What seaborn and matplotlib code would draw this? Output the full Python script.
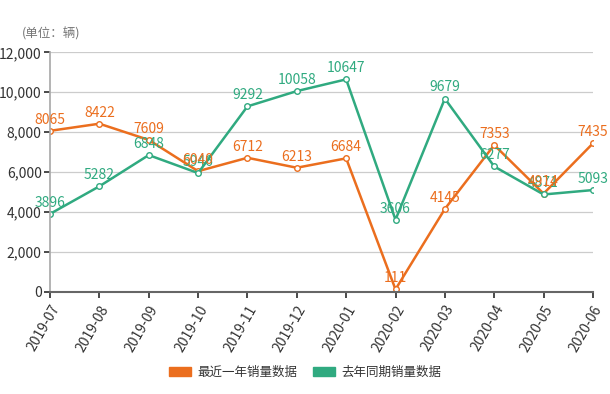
import matplotlib
matplotlib.use('Agg')
import matplotlib.pyplot as plt
import matplotlib.ticker as mticker
from matplotlib.patches import Patch
import seaborn as sns
import pandas as pd

# data
months = ['2019-07', '2019-08', '2019-09', '2019-10', '2019-11', '2019-12',
          '2020-01', '2020-02', '2020-03', '2020-04', '2020-05', '2020-06']
recent_year = [8065, 8422, 7609, 6040, 6712, 6213, 6684, 111, 4145, 7353, 4914, 7435]
last_year = [3896, 5282, 6848, 5946, 9292, 10058, 10647, 3606, 9679, 6277, 4871, 5093]
series_names = ['最近一年销量数据', '去年同期销量数据']
colors = ['#EB6E1E', '#30AA80']

sns.set_theme(style='white')
plt.rcParams['font.family'] = ['Noto Sans CJK SC', 'DejaVu Sans']

df = pd.DataFrame({'month': months * 2,
                   'value': recent_year + last_year,
                   'series': [series_names[0]] * 12 + [series_names[1]] * 12})
df['x'] = list(range(12)) * 2

fig = plt.figure(figsize=(6.10, 3.94), dpi=100)
ax = fig.add_axes([0.082, 0.26, 0.890, 0.607])

sns.lineplot(data=df, x='x', y='value', hue='series', palette=colors,
             linewidth=1.8, marker='o', markersize=4, markerfacecolor='white',
             markeredgewidth=1, legend=False, ax=ax)
# markers edge colour per series
for line, c in zip(ax.lines, colors):
    line.set_markeredgecolor(c)

for vals, c in [(last_year, colors[1]), (recent_year, colors[0])]:
    for i, v in enumerate(vals):
        ax.annotate(str(v), (i, v), xytext=(0, 3), textcoords='offset points',
                    ha='center', va='bottom', fontsize=10, color=c)

ax.set_xlim(0, 11)
ax.set_ylim(0, 12000)
ax.yaxis.set_major_locator(mticker.MultipleLocator(2000))
ax.yaxis.set_major_formatter(mticker.FuncFormatter(lambda v, p: f'{int(v):,}'))
ax.set_xticks(range(12))
ax.set_xticklabels(months, rotation=60, ha='right', rotation_mode='anchor')
ax.tick_params(axis='both', labelsize=10, colors='#333333', length=4,
               bottom=True, left=True, direction='out')
ax.tick_params(axis='x', pad=4)
ax.tick_params(axis='y', pad=2)
ax.grid(axis='y', color='#cccccc', linewidth=0.9)
ax.set_xlabel('')
ax.set_ylabel('')
for s in ['top', 'right']:
    ax.spines[s].set_visible(False)
ax.spines['left'].set_color('#aaaaaa')
ax.spines['bottom'].set_color('#666666')
ax.spines['bottom'].set_linewidth(1.5)

fig.text(0.036, 0.905, '(单位：辆)', fontsize=9, color='#777777')

handles = [Patch(color=c, label=n) for c, n in zip(colors, series_names)]
fig.legend(handles=handles, loc='center', bbox_to_anchor=(0.5, 0.055), ncol=2,
           frameon=False, fontsize=9, handlelength=1.8, handleheight=0.7,
           columnspacing=1.2, handletextpad=0.5, labelcolor='#333333')

fig.savefig('out.png', dpi=100)
